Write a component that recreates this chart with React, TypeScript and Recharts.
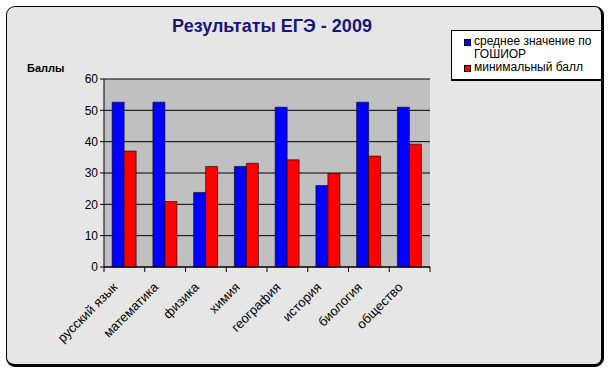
import { BarChart, Bar, XAxis, YAxis, CartesianGrid } from 'recharts';

const subjects = ['русский язык', 'математика', 'физика', 'химия', 'география', 'история', 'биология', 'общество'];
const avgScores = [52.6, 52.6, 23.8, 32.1, 51.0, 26.0, 52.6, 51.0];
const minScores = [37.0, 20.9, 32.1, 33.1, 34.2, 29.8, 35.4, 39.2];
const yTicks = [0, 10, 20, 30, 40, 50, 60];

const data = subjects.map((name, i) => ({ name, avg: avgScores[i], min: minScores[i] }));

const PLOT_LEFT = 104;
const PLOT_RIGHT = 430;
const BAND = (PLOT_RIGHT - PLOT_LEFT) / subjects.length;

const CategoryTick = ({ x, y, payload, index }: any) => {
	return (
		<g>
			<line x1={x - BAND / 2} y1={y - 8} x2={x - BAND / 2} y2={y - 3} stroke="#000" />
			{index === subjects.length - 1 && (
				<line x1={x + BAND / 2} y1={y - 8} x2={x + BAND / 2} y2={y - 3} stroke="#000" />
			)}
			<text
				x={x - 6}
				y={y + 13}
				textAnchor="end"
				fontSize={13}
				fontFamily="Arial, 'Liberation Sans', sans-serif"
				fill="#000"
				transform={`rotate(-45, ${x - 6}, ${y + 13})`}
			>
				{payload.value}
			</text>
		</g>
	);
};

function App() {
	return (
		<div style={{ position: 'absolute', left: 0, top: 0, width: 610, height: 374, background: '#fff', fontFamily: "Arial, 'Liberation Sans', sans-serif" }}>
			<div
				style={{
					position: 'absolute', left: 6, top: 6, width: 594, height: 357,
					background: '#e6e6e6', border: '1px solid #000', borderRightWidth: 3, borderBottomWidth: 3,
					borderRadius: 9,
				}}
			/>
			<div style={{ position: 'absolute', left: 0, top: 16, width: 544, textAlign: 'center', fontSize: 18, fontWeight: 'bold', color: '#17177a' }}>
				Результаты ЕГЭ - 2009
			</div>
			<div style={{ position: 'absolute', left: 27, top: 62, fontSize: 11, fontWeight: 'bold', color: '#000' }}>Баллы</div>
			<div style={{ position: 'absolute', left: 0, top: 0 }}>
				<BarChart
					width={610}
					height={374}
					data={data}
					margin={{ top: 79, right: 610 - PLOT_RIGHT, bottom: 374 - 267 - 30, left: PLOT_LEFT - 60 }}
					barGap={0}
					barCategoryGap="20%"
				>
					<CartesianGrid vertical={false} stroke="#000" fill="#c0c0c0" />
					<XAxis
						dataKey="name"
						interval={0}
						tickLine={false}
						stroke="#000"
						tick={<CategoryTick />}
						height={30}
					/>
					<YAxis
						domain={[0, 60]}
						ticks={yTicks}
						width={60}
						stroke="#000"
						tickSize={4}
						tick={{ fontSize: 12, fill: '#000', fontFamily: "Arial, 'Liberation Sans', sans-serif" }}
					/>
					<Bar dataKey="avg" fill="#0000ff" stroke="#000" strokeWidth={0.6} isAnimationActive={false} />
					<Bar dataKey="min" fill="#ff0000" stroke="#000" strokeWidth={0.6} isAnimationActive={false} />
				</BarChart>
			</div>
			<div
				style={{
					position: 'absolute', left: 451, top: 30, width: 153, height: 51,
					background: '#fff', border: '1px solid #000', borderRightWidth: 3, borderBottomWidth: 2,
					fontSize: 12, color: '#000', lineHeight: '13px', padding: '4px 0 0 12px', boxSizing: 'border-box',
				}}
			>
				<div style={{ display: 'flex' }}>
					<span style={{ width: 5, height: 5, background: '#0000ff', border: '1px solid #000', marginTop: 4, marginRight: 3, flexShrink: 0 }} />
					<span>среднее значение по<br />ГОШИОР</span>
				</div>
				<div style={{ display: 'flex' }}>
					<span style={{ width: 5, height: 5, background: '#ff0000', border: '1px solid #000', marginTop: 4, marginRight: 3, flexShrink: 0 }} />
					<span>минимальный балл</span>
				</div>
			</div>
		</div>
	);
}

export default App;
